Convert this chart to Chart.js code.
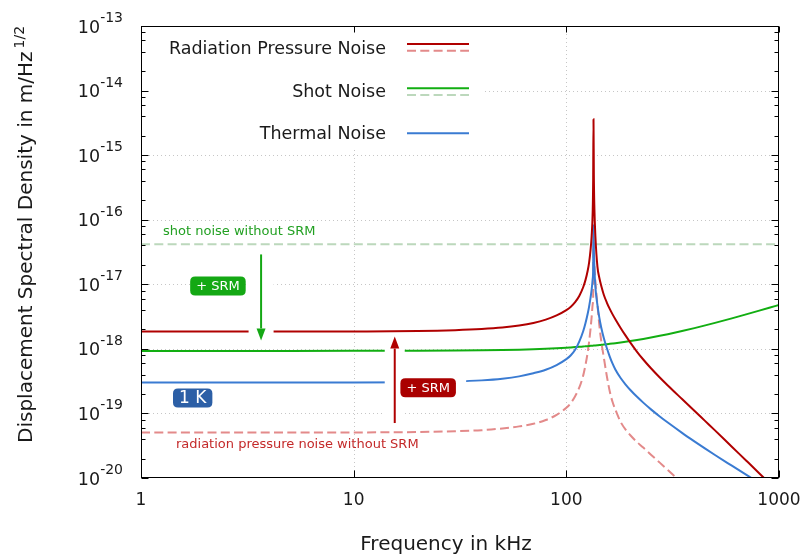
<!DOCTYPE html>
<html>
<head>
<meta charset="utf-8">
<title>Displacement noise spectrum</title>
<script src="https://cdn.jsdelivr.net/npm/chart.js@4.4.0/dist/chart.umd.min.js"></script>
<style>
  html, body { margin: 0; padding: 0; background: #fff; }
  #wrap { width: 801px; height: 555px; position: relative; }
</style>
</head>
<body>
<div id="wrap"><canvas id="noise"></canvas></div>
<script>
// frequency grid in kHz (denser around the 134 kHz resonance)
var freqKHz = [1, 2, 5, 10, 20, 30, 40, 50, 60, 70, 80, 90, 100, 105, 110,
  115, 120, 123, 126, 128, 130, 131.5, 133, 133.7, 134.2, 134.7, 135.5, 137, 140, 143,
  146, 150, 155, 160, 165, 170, 180, 190, 200, 215, 230, 250, 275, 300, 350,
  400, 450, 500, 600, 700, 800, 900, 1000];

// displacement noise in m/Hz^1/2
var radPressure = [1.85e-18, 1.85e-18, 1.85e-18, 1.86e-18, 1.89e-18,
  1.95e-18, 2.03e-18, 2.14e-18, 2.3e-18, 2.52e-18,
  2.84e-18, 3.3e-18, 3.98e-18, 4.5e-18, 5.3e-18,
  6.6e-18, 9.0e-18, 1.16e-17, 1.62e-17, 2.19e-17,
  3.4e-17, 5.5e-17, 1.3e-16, 4.0e-16, 3.6e-15,
  5.0e-16, 1.5e-16, 5.5e-17, 1.9e-17, 1.25e-17,
  9.4e-18, 6.9e-18, 5.22e-18, 4.16e-18, 3.42e-18,
  2.88e-18, 2.11e-18, 1.6e-18, 1.25e-18, 9.01e-19,
  6.84e-19, 5.0e-19, 3.6e-19, 2.71e-19, 1.67e-19,
  1.1e-19, 7.6e-20, 5.46e-20, 3.05e-20, 1.87e-20,
  1.22e-20, 8.3e-21, 5.9e-21];

var radPressureNoSRM = [5.06e-20, 5.06e-20, 5.06e-20, 5.08e-20, 5.15e-20,
  5.3e-20, 5.5e-20, 5.85e-20, 6.3e-20, 6.9e-20,
  7.9e-20, 9.5e-20, 1.22e-19, 1.45e-19, 1.85e-19,
  2.5e-19, 3.85e-19, 5.6e-19, 8.8e-19, 1.3e-18,
  2.05e-18, 3.1e-18, 4.9e-18, 6.5e-18, 4.5e-17,
  3.0e-17, 1.9e-17, 1.1e-17, 4.9e-18, 2.3e-18,
  1.3e-18, 7.4e-19, 3.8e-19, 2.2e-19, 1.5e-19,
  1.15e-19, 7.4e-20, 5.6e-20, 4.6e-20, 3.6e-20,
  2.96e-20, 2.3e-20, 1.73e-20, 1.33e-20, 8.4e-21,
  5.6e-21, 3.95e-21, 2.9e-21, 1.7e-21, 1.05e-21,
  7e-22, 5e-22, 3.6e-22];

var shotNoise = [9.3e-19, 9.3e-19, 9.3e-19, 9.31e-19, 9.35e-19,
  9.41e-19, 9.49e-19, 9.59e-19, 9.72e-19, 9.86e-19,
  1.003e-18, 1.022e-18, 1.042e-18, 1.053e-18, 1.064e-18,
  1.075e-18, 1.088e-18, 1.095e-18, 1.102e-18, 1.107e-18,
  1.113e-18, 1.116e-18, 1.12e-18, 1.122e-18, 1.123e-18,
  1.125e-18, 1.127e-18, 1.131e-18, 1.139e-18, 1.147e-18,
  1.156e-18, 1.167e-18, 1.181e-18, 1.196e-18, 1.211e-18,
  1.226e-18, 1.257e-18, 1.289e-18, 1.322e-18, 1.373e-18,
  1.425e-18, 1.498e-18, 1.592e-18, 1.688e-18, 1.889e-18,
  2.096e-18, 2.309e-18, 2.526e-18, 2.968e-18, 3.417e-18,
  3.871e-18, 4.328e-18, 4.788e-18];

var thermalNoise = [3.0e-19, 3.0e-19, 3.0e-19, 3.0e-19, 3.05e-19,
  3.12e-19, 3.25e-19, 3.45e-19, 3.75e-19, 4.2e-19,
  4.75e-19, 5.61e-19, 6.93e-19, 7.95e-19, 9.66e-19,
  1.29e-18, 1.87e-18, 2.49e-18, 3.49e-18, 4.56e-18,
  6.21e-18, 8.18e-18, 1.2e-17, 1.74e-17, 8.3e-17,
  3.5e-17, 1.8e-17, 9.0e-18, 4.8e-18, 3.01e-18,
  2.12e-18, 1.47e-18, 1.03e-18, 7.6e-19, 5.89e-19,
  4.78e-19, 3.53e-19, 2.8e-19, 2.31e-19, 1.81e-19,
  1.47e-19, 1.156e-19, 8.97e-20, 7.22e-20, 5.01e-20,
  3.7e-20, 2.85e-20, 2.27e-20, 1.55e-20, 1.125e-20,
  8.55e-21, 6.71e-21, 5.42e-21];

// shot noise without SRM is flat over the whole band
var shotNoSRMFreq = [1, 1000];
var shotNoSRM = [4.17e-17, 4.17e-17];

var xTicks = [1, 10, 100, 1000];
var xTickLabels = ['1', '10', '100', '1000'];
var yTickExp = [-20, -19, -18, -17, -16, -15, -14, -13];
var yMinorSteps = [2, 4, 6, 8];

var FONT = '"DejaVu Sans", Verdana, sans-serif';
var RED = '#b00000', RED_LIGHT = '#e38a8a', GREEN = '#12ae12', GREEN_LIGHT = '#bcd8bc',
    BLUE = '#3a7bd2', BOX_GREEN = '#14a814', BOX_BLUE = '#2c5fa6', TXT = '#1a1a1a';

function pts(xs, ys) {
  return xs.map(function (x, i) { return { x: x, y: ys[i] }; });
}

function roundBox(ctx, x, y, w, h, r, fill) {
  ctx.beginPath();
  ctx.moveTo(x + r, y);
  ctx.lineTo(x + w - r, y); ctx.quadraticCurveTo(x + w, y, x + w, y + r);
  ctx.lineTo(x + w, y + h - r); ctx.quadraticCurveTo(x + w, y + h, x + w - r, y + h);
  ctx.lineTo(x + r, y + h); ctx.quadraticCurveTo(x, y + h, x, y + h - r);
  ctx.lineTo(x, y + r); ctx.quadraticCurveTo(x, y, x + r, y);
  ctx.closePath();
  ctx.fillStyle = fill; ctx.fill();
}

function tag(ctx, cx, cy, text, size, fill) {
  ctx.font = size + 'px ' + FONT;
  var w = ctx.measureText(text).width + 12, h = 19;
  roundBox(ctx, cx - w / 2, cy - h / 2, w, h, 5, fill);
  ctx.fillStyle = '#fff';
  ctx.textAlign = 'center'; ctx.textBaseline = 'middle';
  ctx.fillText(text, cx, cy + 1);
  return w;
}

function arrow(ctx, x, y0, y1, color) {
  var dir = y1 > y0 ? 1 : -1, head = 12;
  ctx.strokeStyle = color; ctx.fillStyle = color; ctx.lineWidth = 2;
  ctx.beginPath(); ctx.moveTo(x, y0); ctx.lineTo(x, y1 - dir * head); ctx.stroke();
  ctx.beginPath();
  ctx.moveTo(x, y1); ctx.lineTo(x - 4.5, y1 - dir * head); ctx.lineTo(x + 4.5, y1 - dir * head);
  ctx.closePath(); ctx.fill();
}

var noiseAxes = {
  id: 'noiseAxes',
  beforeDatasetsDraw: function (chart) {
    var ctx = chart.ctx, a = chart.chartArea, xs = chart.scales.x, ys = chart.scales.y;
    ctx.save();
    ctx.strokeStyle = '#c6c6c6'; ctx.lineWidth = 1; ctx.setLineDash([1, 3]);
    ctx.beginPath();
    yTickExp.forEach(function (e) {
      var p = Math.round(ys.getPixelForValue(Math.pow(10, e))) + 0.5;
      if (p <= a.top + 2 || p >= a.bottom - 2) return;
      ctx.moveTo(a.left, p); ctx.lineTo(a.right, p);
    });
    xTicks.forEach(function (v) {
      var p = Math.round(xs.getPixelForValue(v)) + 0.5;
      if (p <= a.left + 2 || p >= a.right - 2) return;
      ctx.moveTo(p, a.top); ctx.lineTo(p, a.bottom);
    });
    ctx.stroke();
    // key sits on a white panel
    ctx.fillStyle = '#fff';
    ctx.fillRect(a.left + 1, a.top + 1, 340, 120);
    ctx.restore();
  },
  afterDatasetsDraw: function (chart) {
    var ctx = chart.ctx, a = chart.chartArea, xs = chart.scales.x, ys = chart.scales.y;
    var X = function (f) { return xs.getPixelForValue(f); };
    var Y = function (v) { return ys.getPixelForValue(v); };
    ctx.save();

    // SRM arrows and tags, each on a white backing that cuts the curves
    var gx = X(3.67), gy0 = Y(2.9e-17), gy1 = Y(1.35e-18);
    var rx = X(15.6), ry0 = Y(7.1e-20), ry1 = Y(1.55e-18);
    var rtx = X(22.4), rty = Y(2.5e-19);
    ctx.fillStyle = '#fff';
    ctx.fillRect(gx - 12.5, gy0, 25, gy1 - gy0 + 2);
    ctx.fillRect(rx - 10, ry1, 20, ry0 - ry1 + 2);
    ctx.fillRect(rtx - 39, rty - 13, 77, 26);
    arrow(ctx, gx, gy0, gy1, BOX_GREEN);
    arrow(ctx, rx, ry0, ry1, RED);
    tag(ctx, X(2.3), Y(9.4e-18), '+ SRM', 13, BOX_GREEN);
    tag(ctx, rtx, rty, '+ SRM', 13, '#aa0000');
    tag(ctx, X(1.75), Y(1.74e-19), '1 K', 17, BOX_BLUE);

    ctx.font = '13px ' + FONT;
    ctx.textAlign = 'left'; ctx.textBaseline = 'alphabetic';
    ctx.fillStyle = '#22a022';
    ctx.fillText('shot noise without SRM', X(1.27), Y(5.8e-17));
    ctx.fillStyle = '#c42a2a';
    ctx.fillText('radiation pressure noise without SRM', X(1.46), Y(2.9e-20));

    // frame and tics
    ctx.strokeStyle = '#000'; ctx.lineWidth = 1; ctx.setLineDash([]);
    var L = Math.round(a.left) + 0.5, R = Math.round(a.right) - 0.5,
        T = Math.round(a.top) + 0.5, B = Math.round(a.bottom) - 0.5;
    ctx.strokeRect(L, T, R - L, B - T);
    ctx.beginPath();
    yTickExp.forEach(function (e) {
      var p = Math.round(Y(Math.pow(10, e))) + 0.5;
      ctx.moveTo(L, p); ctx.lineTo(L + 7, p);
      ctx.moveTo(R, p); ctx.lineTo(R - 7, p);
      if (e === -13) return;
      yMinorSteps.forEach(function (m) {
        var q = Math.round(Y(m * Math.pow(10, e))) + 0.5;
        ctx.moveTo(L, q); ctx.lineTo(L + 4, q);
        ctx.moveTo(R, q); ctx.lineTo(R - 4, q);
      });
    });
    xTicks.forEach(function (v) {
      var p = Math.round(X(v)) + 0.5;
      ctx.moveTo(p, B); ctx.lineTo(p, B - 7);
      ctx.moveTo(p, T); ctx.lineTo(p, T + 6);
    });
    ctx.stroke();

    // tic labels
    ctx.fillStyle = TXT;
    ctx.textBaseline = 'alphabetic';
    var lx = a.left - 18;
    yTickExp.forEach(function (e) {
      var p = Y(Math.pow(10, e));
      var sup = '-' + Math.abs(e);
      ctx.font = '14px ' + FONT; ctx.textAlign = 'right';
      var w = ctx.measureText(sup).width;
      ctx.fillText(sup, lx, p - 4);
      ctx.font = '17.5px ' + FONT;
      ctx.fillText('10', lx - w, p + 6.5);
    });
    ctx.font = '17px ' + FONT; ctx.textAlign = 'center';
    xTicks.forEach(function (v, i) {
      ctx.fillText(xTickLabels[i], X(v), a.bottom + 27);
    });

    // axis titles
    ctx.font = '20px ' + FONT;
    ctx.fillText('Frequency in kHz', a.left + 305, a.bottom + 72);
    ctx.save();
    ctx.translate(31.5, 443);
    ctx.rotate(-Math.PI / 2);
    ctx.textAlign = 'left';
    var main = 'Displacement Spectral Density in m/Hz';
    ctx.fillText(main, 0, 0);
    var mw = ctx.measureText(main).width;
    ctx.font = '14px ' + FONT;
    ctx.fillText('1/2', mw + 3, -8);
    ctx.restore();

    // key
    var ds = chart.data.datasets;
    var keyX = a.left + 245, s0 = a.left + 266, s1 = a.left + 328;
    var rows = [
      { text: ds[0].label, base: a.top + 28, lines: [[a.top + 18, RED, null], [a.top + 24.7, RED_LIGHT, [9, 4.3]]] },
      { text: ds[2].label, base: a.top + 71.3, lines: [[a.top + 62.3, GREEN, null], [a.top + 69, GREEN_LIGHT, [9, 4.3]]] },
      { text: ds[1].label, base: a.top + 113.3, lines: [[a.top + 107.3, BLUE, null]] }
    ];
    ctx.font = '17.5px ' + FONT; ctx.textAlign = 'right';
    rows.forEach(function (r) {
      ctx.fillStyle = TXT;
      ctx.fillText(r.text, keyX, r.base);
      r.lines.forEach(function (ln) {
        ctx.strokeStyle = ln[1]; ctx.lineWidth = 2;
        ctx.setLineDash(ln[2] || []);
        ctx.beginPath(); ctx.moveTo(s0, ln[0]); ctx.lineTo(s1, ln[0]); ctx.stroke();
      });
    });
    ctx.restore();
  }
};

new Chart(document.getElementById('noise'), {
  type: 'line',
  data: {
    datasets: [
      { label: 'Radiation Pressure Noise', data: pts(freqKHz, radPressure), borderColor: RED },
      { label: 'Thermal Noise', data: pts(freqKHz, thermalNoise), borderColor: BLUE },
      { label: 'Shot Noise', data: pts(freqKHz, shotNoise), borderColor: GREEN },
      { label: 'radiation pressure noise without SRM', data: pts(freqKHz, radPressureNoSRM),
        borderColor: RED_LIGHT, borderDash: [9, 4.3] },
      { label: 'shot noise without SRM', data: pts(shotNoSRMFreq, shotNoSRM),
        borderColor: GREEN_LIGHT, borderDash: [9, 4.3] }
    ]
  },
  options: {
    responsive: true,
    maintainAspectRatio: false,
    animation: false,
    layout: { padding: { left: 141, right: 22, top: 26, bottom: 77 } },
    scales: {
      x: { type: 'logarithmic', min: 1, max: 1000, display: false },
      y: { type: 'logarithmic', min: 1e-20, max: 1e-13, display: false }
    },
    elements: {
      point: { radius: 0 },
      line: { borderWidth: 2, fill: false, cubicInterpolationMode: 'monotone' }
    },
    plugins: { legend: { display: false }, tooltip: { enabled: false } }
  },
  plugins: [noiseAxes]
});
</script>
</body>
</html>
